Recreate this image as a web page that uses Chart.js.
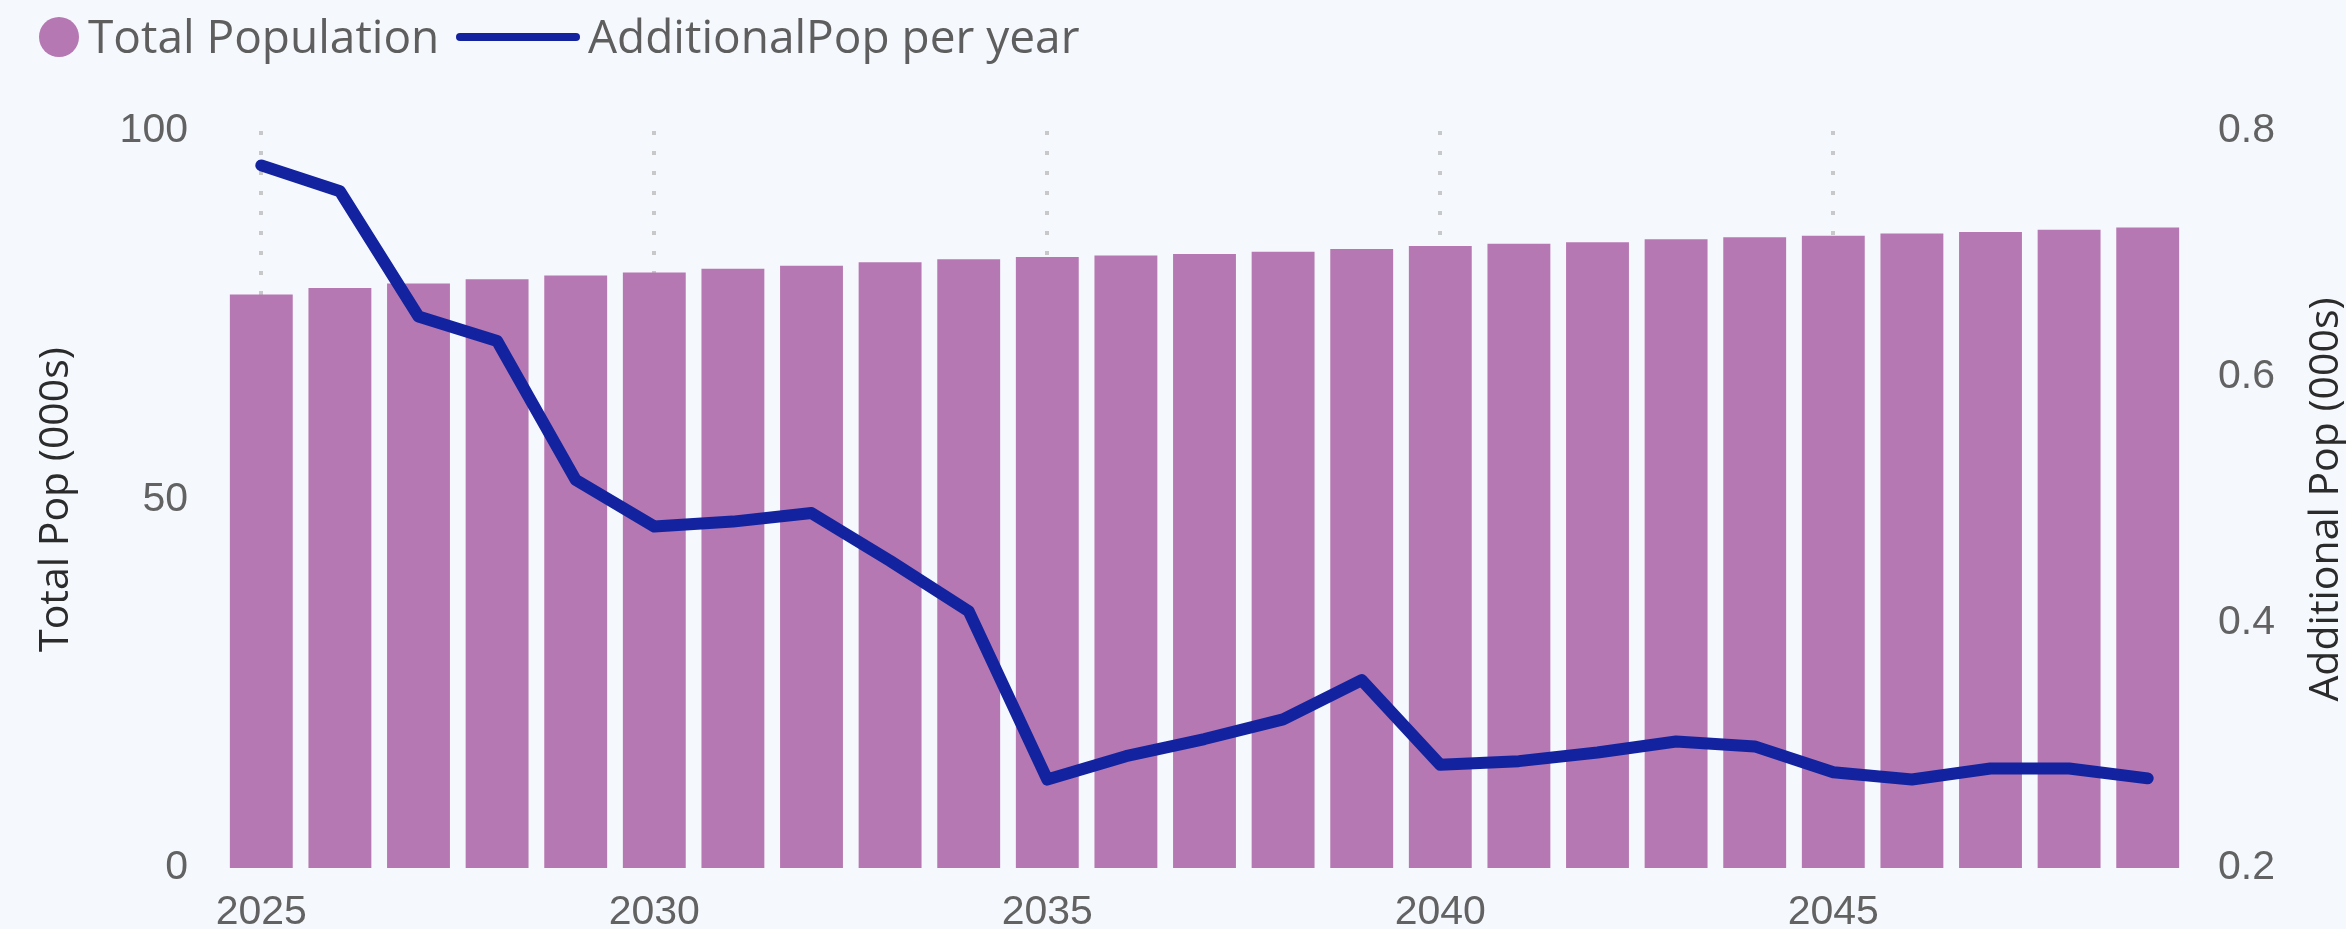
<!DOCTYPE html>
<html>
<head>
<meta charset="utf-8">
<title>Population</title>
<script src="https://cdn.jsdelivr.net/npm/chart.js@4.4.1/dist/chart.umd.min.js"></script>
<style>
  html, body { margin: 0; padding: 0; background: #f5f8fd; }
  #wrap { position: relative; width: 2346px; height: 929px; }
</style>
</head>
<body>
<div id="wrap"><canvas id="popChart"></canvas></div>
<script>
// years along the bottom
const years = ['2025', '2026', '2027', '2028', '2029', '2030', '2031', '2032', '2033', '2034',
  '2035', '2036', '2037', '2038', '2039', '2040', '2041', '2042', '2043', '2044',
  '2045', '2046', '2047', '2048', '2049'];

// total population, 000s (left axis)
const totalPop = [77.8, 78.7, 79.3, 79.9, 80.4, 80.8, 81.3, 81.7, 82.2, 82.6,
  82.9, 83.1, 83.3, 83.6, 84.0, 84.4, 84.7, 84.9, 85.3, 85.6,
  85.8, 86.1, 86.3, 86.6, 86.9];

// additional population per year, 000s (right axis)
const additionalPop = [0.772, 0.751, 0.649, 0.629, 0.516, 0.478, 0.482, 0.489, 0.450, 0.409,
  0.272, 0.291, 0.305, 0.321, 0.353, 0.284, 0.287, 0.294, 0.303, 0.299,
  0.278, 0.272, 0.281, 0.281, 0.273];

const xTickLabels = ['2025', '2030', '2035', '2040', '2045'];
const leftTicks = [0, 50, 100];
const rightTicks = [0.2, 0.4, 0.6, 0.8];

const barColor = '#b578b2';
const lineColor = '#13239f';
const tickColor = '#626262';

// legend row + both axis titles drawn by hand (right title reads bottom-to-top)
const extraText = {
  id: 'extraText',
  afterDraw(chart) {
    const ctx = chart.ctx;
    ctx.save();
    ctx.font = '46px "Open Sans"';
    ctx.textAlign = 'left';
    ctx.textBaseline = 'alphabetic';

    ctx.beginPath();
    ctx.arc(59, 37, 20, 0, Math.PI * 2);
    ctx.fillStyle = barColor;
    ctx.fill();
    ctx.fillStyle = '#5e5e5e';
    ctx.fillText(chart.data.datasets[0].label, 88, 53);

    ctx.beginPath();
    ctx.moveTo(460, 37);
    ctx.lineTo(576, 37);
    ctx.lineWidth = 8;
    ctx.lineCap = 'round';
    ctx.strokeStyle = lineColor;
    ctx.stroke();
    ctx.fillText(chart.data.datasets[1].label, 588, 53);

    ctx.font = '41px "Open Sans"';
    ctx.fillStyle = '#2b2b2b';
    ctx.textAlign = 'center';
    const midY = (chart.chartArea.top + chart.chartArea.bottom) / 2;
    [[68, chart.options.scales.y.titleText], [2338, chart.options.scales.y1.titleText]].forEach(function(t) {
      ctx.save();
      ctx.translate(t[0], midY);
      ctx.rotate(-Math.PI / 2);
      ctx.fillText(t[1], 0, 0);
      ctx.restore();
    });
    ctx.restore();
  }
};

Chart.defaults.font.family = '"Liberation Sans", Arial, sans-serif';
Chart.defaults.color = tickColor;

new Chart(document.getElementById('popChart'), {
  type: 'bar',
  data: {
    labels: years,
    datasets: [
      {
        label: 'Total Population',
        data: totalPop,
        backgroundColor: barColor,
        yAxisID: 'y',
        order: 1,
        barPercentage: 0.8,
        categoryPercentage: 1.0
      },
      {
        type: 'line',
        label: 'AdditionalPop per year',
        data: additionalPop,
        borderColor: lineColor,
        backgroundColor: lineColor,
        borderWidth: 12,
        borderCapStyle: 'round',
        borderJoinStyle: 'round',
        pointRadius: 0,
        tension: 0,
        yAxisID: 'y1',
        order: 0
      }
    ]
  },
  options: {
    responsive: true,
    maintainAspectRatio: false,
    animation: false,
    layout: { padding: { top: 131, left: 0, right: 0, bottom: 0 } },
    plugins: {
      legend: { display: false },
      tooltip: { enabled: false }
    },
    scales: {
      x: {
        grid: { color: '#c8c8c8', lineWidth: 4, drawTicks: false, offset: false },
        border: { display: false, dash: [4, 16] },
        ticks: {
          autoSkip: false,
          maxRotation: 0,
          padding: 20,
          font: { size: 41 },
          callback: function(v, i) {
            const lab = years[i];
            return xTickLabels.includes(lab) ? lab : null;
          }
        },
        afterFit: function(s) { s.height = 61; }
      },
      y: {
        position: 'left',
        min: 0,
        max: 100,
        titleText: 'Total Pop (000s)',
        grid: { display: false, drawTicks: false },
        border: { display: false },
        ticks: { padding: 34, font: { size: 41 } },
        afterBuildTicks: function(s) { s.ticks = leftTicks.map(v => ({ value: v })); },
        afterFit: function(s) { s.width = 222; }
      },
      y1: {
        position: 'right',
        min: 0.2,
        max: 0.8,
        titleText: 'Additional Pop (000s)',
        grid: { display: false, drawTicks: false },
        border: { display: false },
        ticks: { padding: 31, font: { size: 41 } },
        afterBuildTicks: function(s) { s.ticks = rightTicks.map(v => ({ value: v })); },
        afterFit: function(s) { s.width = 159; }
      }
    }
  },
  plugins: [extraText]
});
</script>
</body>
</html>
